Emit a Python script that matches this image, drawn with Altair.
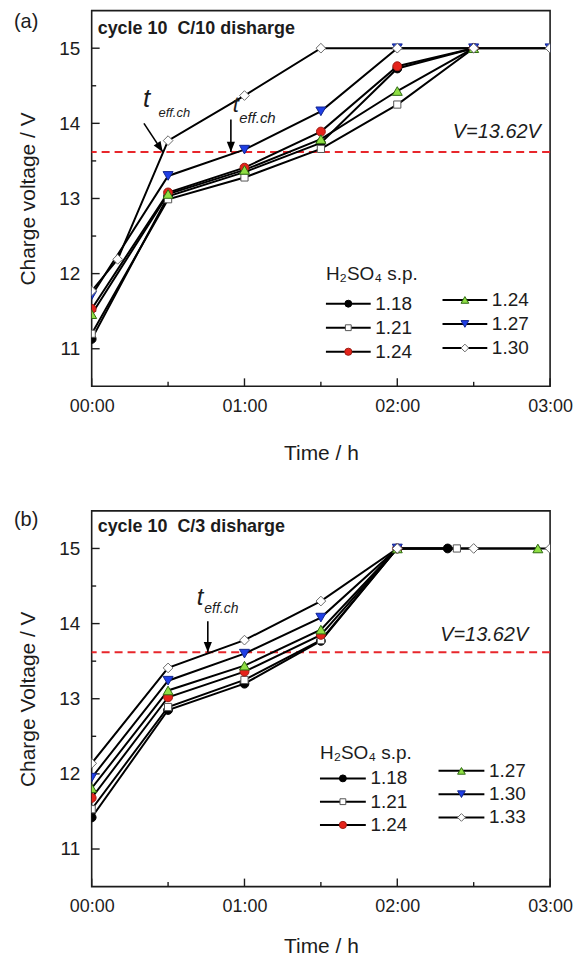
import math
import altair as alt
import pandas as pd

FONT = "Liberation Sans"
INK = "#1c1c1c"

# ---------------- values ----------------
# time in hours, charge voltage in V
# panel (a): cycle 10, C/10 discharge
A_NAMES = ["1.18", "1.21", "1.24", "1.24", "1.27", "1.30"]
A_T_118 = [0, 0.5, 1.0, 1.5, 2.0, 2.5]
A_V_118 = [11.13, 13.03, 13.35, 13.74, 14.73, 15.0]
A_T_121 = [0, 0.5, 1.0, 1.5, 2.0, 2.5]
A_V_121 = [11.20, 12.99, 13.28, 13.66, 14.25, 15.0]
A_T_124R = [0, 0.5, 1.0, 1.5, 2.0, 2.5]
A_V_124R = [11.53, 13.08, 13.41, 13.89, 14.76, 15.0]
A_T_124G = [0, 0.5, 1.0, 1.5, 2.0, 2.5]
A_V_124G = [11.46, 13.06, 13.38, 13.79, 14.43, 15.0]
A_T_127 = [0, 0.5, 1.0, 1.5, 2.0, 2.5, 3.0]
A_V_127 = [11.71, 13.30, 13.65, 14.16, 15.0, 15.0, 15.0]
A_T_130 = [0, 0.17, 0.5, 1.0, 1.5, 2.0, 2.5, 3.0]
A_V_130 = [11.77, 12.19, 13.77, 14.37, 15.0, 15.0, 15.0, 15.0]

# panel (b): cycle 10, C/3 discharge
B_NAMES = ["1.18", "1.21", "1.24", "1.27", "1.30", "1.33"]
B_T_118 = [0, 0.5, 1.0, 1.5, 2.0, 2.33]
B_V_118 = [11.42, 12.85, 13.20, 13.77, 15.0, 15.0]
B_T_121 = [0, 0.5, 1.0, 1.5, 2.0, 2.39]
B_V_121 = [11.53, 12.89, 13.25, 13.78, 15.0, 15.0]
B_T_124 = [0, 0.5, 1.0, 1.5, 2.0]
B_V_124 = [11.68, 13.02, 13.36, 13.85, 15.0]
B_T_127 = [0, 0.5, 1.0, 1.5, 2.0, 2.92]
B_V_127 = [11.81, 13.11, 13.44, 13.92, 15.0, 15.0]
B_T_130 = [0, 0.5, 1.0, 1.5, 2.0]
B_V_130 = [11.95, 13.24, 13.60, 14.08, 15.0]
B_T_133 = [0, 0.5, 1.0, 1.5, 2.0, 2.5, 3.0]
B_V_133 = [12.14, 13.41, 13.78, 14.30, 15.0, 15.0, 15.0]

V_EFF = 13.62
X_TICKS = [0, 1, 2, 3]
X_MINOR = [0.5, 1.5, 2.5]
Y_TICKS = [11, 12, 13, 14, 15]
Y_MINOR = [11.5, 12.5, 13.5, 14.5]

# ---------------- styles ----------------
SHAPES = ["circle", "square", "circle", "triangle-up", "triangle-down", "diamond"]
FILLS = ["#000000", "#ffffff", "#e5231b", "#8fdf44", "#1f3fe6", "#ffffff"]
STROKES = ["#000000", "#555555", "#9c1a12", "#2f6a12", "#12258f", "#6a6a6a"]
SIZES = [78, 52, 80, 100, 100, 95]
LEG_SIZES = [48, 34, 52, 60, 60, 60]
ARROW_PATH = "M0,0L-0.4,-1L0.4,-1Z"

W, H = 460, 377
XD = [0, 3]
YD = [10.5, 15.5]


def build_panel(keys, names, ts_list, vs_list, ytitle, head, tag, tag_y, head_y,
                leg, ann_left, ann_right, arrows, x_title_pad):
    xaxis = alt.Axis(values=X_TICKS, labelExpr="'0' + datum.value + ':00'",
                     ticks=False, tickSize=0, domain=False, grid=False,
                     labelFlush=False, labelPadding=11, titlePadding=x_title_pad,
                     labelFontSize=18, titleFontSize=21)
    yaxis = alt.Axis(values=Y_TICKS, format="d", ticks=False, tickSize=0,
                     domain=False, grid=False, labelPadding=12, titlePadding=20,
                     labelFontSize=19, titleFontSize=21)
    xs = alt.Scale(domain=XD, nice=False, zero=False)
    ys = alt.Scale(domain=YD, nice=False, zero=False)

    def X(f):
        return alt.X(f, type="quantitative", scale=xs, axis=xaxis, title="Time / h")

    def Y(f):
        return alt.Y(f, type="quantitative", scale=ys, axis=yaxis, title=ytitle)

    shape = alt.Shape("key:N", scale=alt.Scale(domain=keys, range=SHAPES), legend=None)
    fill = alt.Fill("key:N", scale=alt.Scale(domain=keys, range=FILLS), legend=None)
    stroke = alt.Stroke("key:N", scale=alt.Scale(domain=keys, range=STROKES), legend=None)

    rows = []
    for i, (k, ts, vs) in enumerate(zip(keys, ts_list, vs_list)):
        for t, v in zip(ts, vs):
            rows.append({"key": k, "idx": i, "t": t, "v": v, "sz": SIZES[i]})
    df = pd.DataFrame(rows)

    layers = []
    # inward tick marks
    layers.append(alt.Chart(pd.DataFrame({"t": X_TICKS})).mark_rule(color=INK, strokeWidth=1.4)
                  .encode(x=X("t"), y=alt.value(H), y2=alt.value(H - 8)))
    layers.append(alt.Chart(pd.DataFrame({"t": X_MINOR})).mark_rule(color=INK, strokeWidth=1.4)
                  .encode(x=X("t"), y=alt.value(H), y2=alt.value(H - 4.5)))
    layers.append(alt.Chart(pd.DataFrame({"v": Y_TICKS})).mark_rule(color=INK, strokeWidth=1.4)
                  .encode(y=Y("v"), x=alt.value(0), x2=alt.value(8)))
    layers.append(alt.Chart(pd.DataFrame({"v": Y_MINOR})).mark_rule(color=INK, strokeWidth=1.4)
                  .encode(y=Y("v"), x=alt.value(0), x2=alt.value(4.5)))
    # reference voltage
    layers.append(alt.Chart(pd.DataFrame({"v": [V_EFF]}))
                  .mark_rule(color="#e8262b", strokeDash=[8, 5], strokeWidth=2)
                  .encode(y=Y("v")))
    # series
    layers.append(alt.Chart(df).mark_line(color="#000000", strokeWidth=2, clip=True)
                  .encode(x=X("t"), y=Y("v"), detail="key:N", order="t:Q"))
    layers.append(alt.Chart(df).mark_point(filled=True, opacity=1, strokeWidth=1, clip=True)
                  .encode(x=X("t"), y=Y("v"), shape=shape, fill=fill, stroke=stroke,
                          size=alt.Size("sz:Q", scale=None), order="idx:Q"))

    # legend (drawn in data units)
    lrows = []
    for i, (k, nm) in enumerate(zip(keys, names)):
        c, r = i // 3, i % 3
        tl = leg["x0"] + c * leg["col_dx"]
        tr = tl + leg["line_w"]
        lrows.append({"key": k, "label": nm, "t": tl, "t2": tr, "tm": (tl + tr) / 2,
                      "tt": tr + leg["text_dx"],
                      "v": leg["y0"] - r * leg["row_dy"] + c * leg["col2_dv"],
                      "sz": LEG_SIZES[i]})
    ldf = pd.DataFrame(lrows)
    layers.append(alt.Chart(ldf).mark_rule(color="#000000", strokeWidth=2)
                  .encode(x=X("t"), x2=alt.X2("t2"), y=Y("v")))
    layers.append(alt.Chart(ldf).mark_point(filled=True, opacity=1, strokeWidth=1)
                  .encode(x=X("tm"), y=Y("v"), shape=shape, fill=fill, stroke=stroke,
                          size=alt.Size("sz:Q", scale=None)))
    layers.append(alt.Chart(ldf).mark_text(align="left", baseline="middle", font=FONT,
                                           fontSize=19, color=INK)
                  .encode(x=X("tt"), y=Y("v"), text="label:N"))
    hdf = pd.DataFrame({"t": [leg["x0"]], "v": [leg["y0"] + leg["head_dv"]],
                        "s": ["H\u2082SO\u2084 s.p."]})
    layers.append(alt.Chart(hdf).mark_text(align="left", baseline="middle", font=FONT,
                                           fontSize=19, color=INK)
                  .encode(x=X("t"), y=Y("v"), text="s:N"))

    # arrows
    arows = []
    for (t1, v1, t2, v2) in arrows:
        dx = (t2 - t1) * W / (XD[1] - XD[0])
        dy = (v1 - v2) * H / (YD[1] - YD[0])
        ang = (-math.degrees(math.atan2(dx, dy))) % 360
        arows.append({"t": t1, "v": v1, "t2": t2, "v2": v2, "ang": ang})
    adf = pd.DataFrame(arows)
    layers.append(alt.Chart(adf).mark_rule(color="#000000", strokeWidth=1.6)
                  .encode(x=X("t"), y=Y("v"), x2=alt.X2("t2"), y2=alt.Y2("v2")))
    layers.append(alt.Chart(adf).mark_point(shape=ARROW_PATH, filled=True, opacity=1,
                                            color="#000000", size=420)
                  .encode(x=X("t2"), y=Y("v2"), angle=alt.Angle("ang:Q", scale=None)))

    # annotation texts
    tdf = pd.DataFrame(ann_left, columns=["s", "t", "v", "fs"])
    layers.append(alt.Chart(tdf).mark_text(align="left", baseline="alphabetic", font=FONT,
                                           fontStyle="italic", color=INK)
                  .encode(x=X("t"), y=Y("v"), text="s:N",
                          size=alt.Size("fs:Q", scale=None)))
    rdf = pd.DataFrame(ann_right, columns=["s", "t", "v", "fs"])
    layers.append(alt.Chart(rdf).mark_text(align="right", baseline="alphabetic", font=FONT,
                                           fontStyle="italic", color=INK)
                  .encode(x=X("t"), y=Y("v"), text="s:N",
                          size=alt.Size("fs:Q", scale=None)))

    # panel tag and heading
    layers.append(alt.Chart(pd.DataFrame({"s": [tag]}))
                  .mark_text(align="left", baseline="alphabetic", font=FONT, fontSize=20, color=INK)
                  .encode(x=alt.value(-78), y=alt.value(tag_y), text="s:N"))
    layers.append(alt.Chart(pd.DataFrame({"s": [head]}))
                  .mark_text(align="left", baseline="alphabetic", font=FONT, fontSize=18,
                             fontWeight="bold", color=INK)
                  .encode(x=alt.value(6), y=alt.value(head_y), text="s:N"))

    return alt.layer(*layers).properties(width=W, height=H)


panel_a = build_panel(
    keys=["a118", "a121", "a124r", "a124g", "a127", "a130"],
    names=A_NAMES,
    ts_list=[A_T_118, A_T_121, A_T_124R, A_T_124G, A_T_127, A_T_130],
    vs_list=[A_V_118, A_V_121, A_V_124R, A_V_124G, A_V_127, A_V_130],
    ytitle="Charge voltage / V",
    head="cycle 10\u00a0 C/10 disharge",
    tag="(a)", tag_y=17, head_y=23,
    leg={"x0": 1.533, "col_dx": 0.763, "line_w": 0.293, "text_dx": 0.03,
         "y0": 11.60, "row_dy": 0.32, "col2_dv": 0.05, "head_dv": 0.39},
    ann_left=[("t", 0.336, 14.22, 26), ("eff.ch", 0.437, 14.09, 13),
              ("t", 0.923, 14.15, 22), ("eff.ch", 0.965, 14.01, 15)],
    ann_right=[("V=13.62V", 2.94, 13.81, 20)],
    arrows=[(0.342, 14.00, 0.465, V_EFF), (0.911, 14.05, 0.911, V_EFF)],
    x_title_pad=27,
)

panel_b = build_panel(
    keys=["b118", "b121", "b124", "b127", "b130", "b133"],
    names=B_NAMES,
    ts_list=[B_T_118, B_T_121, B_T_124, B_T_127, B_T_130, B_T_133],
    vs_list=[B_V_118, B_V_121, B_V_124, B_V_127, B_V_130, B_V_133],
    ytitle="Charge Voltage / V",
    head="cycle 10\u00a0 C/3 disharge",
    tag="(b)", tag_y=15, head_y=21,
    leg={"x0": 1.494, "col_dx": 0.776, "line_w": 0.30, "text_dx": 0.03,
         "y0": 11.94, "row_dy": 0.31, "col2_dv": 0.10, "head_dv": 0.34},
    ann_left=[("t", 0.688, 14.245, 24), ("eff.ch", 0.737, 14.14, 14)],
    ann_right=[("V=13.62V", 2.857, 13.77, 20)],
    arrows=[(0.76, 14.03, 0.76, V_EFF)],
    x_title_pad=20,
)

chart = (
    alt.vconcat(panel_a, panel_b, spacing=45)
    .properties(padding={"left": 13, "top": 8, "right": 0, "bottom": 0}, background="white")
    .configure_view(stroke=INK, strokeWidth=1.6)
    .configure_axis(labelFont=FONT, titleFont=FONT, labelColor=INK, titleColor=INK,
                    titleFontWeight="normal")
)

chart.save("out.html", embed_options={"renderer": "svg", "actions": False})
